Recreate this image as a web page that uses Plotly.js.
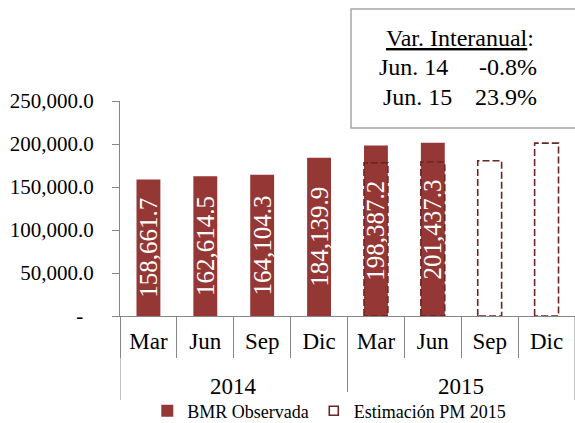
<!DOCTYPE html>
<html>
<head>
<meta charset="utf-8">
<script src="https://cdn.plot.ly/plotly-3.0.1.min.js"></script>
<style>html,body{margin:0;padding:0;background:#fff}#chart{width:575px;height:423px}</style>
</head>
<body>
<div id="chart"></div>
<script>
// Data
const years = ['2014','2014','2014','2014','2015','2015','2015','2015'];
const months = ['Mar','Jun','Sep','Dic','Mar','Jun','Sep','Dic'];
const observed = [158661.7, 162614.5, 164104.3, 184139.9, 198387.2, 201437.3, null, null];
const estimate = [null, null, null, null, 178000, 179000, 180500, 201000];
const yTickVals = [0, 50000, 100000, 150000, 200000, 250000];
const yTickText = ['-\u00a0\u00a0', '50,000.0', '100,000.0', '150,000.0', '200,000.0', '250,000.0'];
const seriesNames = ['BMR Observada', 'Estimación PM 2015'];
const boxTitle = '<u>Var. Interanual</u>:';
const varLabels = ['Jun. 14', 'Jun. 15'];
const varValues = ['-0.8%', '23.9%'];

const FONT = '"Liberation Serif", "Times New Roman", serif';
const BAR_COLOR = '#953735';
const DASH_COLOR = '#6b2624';
const AXIS_COLOR = '#868686';
const BAR_W = 0.42;

const idx = months.map((_, i) => i);
const boundaries = [-0.5].concat(idx.map(i => i + 0.5));

// year groups: center and edges from the years array
const yearNames = [...new Set(years)];
const yearCenters = yearNames.map(y => {
  const ii = idx.filter(i => years[i] === y);
  return (ii[0] + ii[ii.length - 1]) / 2;
});
const yearEdges = [-0.5].concat(yearNames.map(y => {
  const ii = idx.filter(i => years[i] === y);
  return ii[ii.length - 1] + 0.5;
}));

// Dashed outline rectangles computed from the estimate array
const rx = [], ry = [];
estimate.forEach((v, i) => {
  if (v === null) return;
  const a = i - BAR_W / 2, b = i + BAR_W / 2;
  rx.push(a, a, b, b, a, null);
  ry.push(0, v, v, 0, 0, null);
});

const traces = [
  {
    type: 'bar', name: seriesNames[0],
    x: idx, y: observed,
    width: BAR_W,
    marker: {color: BAR_COLOR, line: {width: 0}},
    texttemplate: '%{y:,.1f}',
    textposition: 'inside', insidetextanchor: 'middle',
    textangle: -90, constraintext: 'none',
    textfont: {family: FONT, size: 25, color: '#ffffff'},
    hoverinfo: 'skip'
  },
  {
    type: 'scatter', mode: 'lines',
    x: rx, y: ry, showlegend: false,
    line: {color: DASH_COLOR, width: 1.6, dash: '7px,3px'},
    hoverinfo: 'skip'
  },
  {
    type: 'scatter', mode: 'markers', name: seriesNames[1],
    x: [null], y: [null],
    marker: {symbol: 'square-open', size: 9, color: DASH_COLOR, line: {width: 1.6}},
    hoverinfo: 'skip'
  }
];

const DIV_BOTTOM = -0.391;
const shapes = [
  {type: 'rect', xref: 'paper', yref: 'paper', x0: 0.5077, x1: 1.003, y0: 0.8744, y1: 1.428,
   line: {color: '#a6a6a6', width: 1.5}, fillcolor: 'rgba(0,0,0,0)'}
].concat(yearEdges.map(e => ({
  type: 'line', xref: 'x', yref: 'paper', x0: e, x1: e, y0: 0, y1: DIV_BOTTOM,
  line: {color: AXIS_COLOR, width: 1}
})));

const annotations = [
  {xref: 'paper', yref: 'paper', x: 0.7473, y: 1.293, xanchor: 'center', yanchor: 'middle',
   text: boxTitle, showarrow: false, font: {family: FONT, size: 24, color: '#000'}},
  {xref: 'paper', yref: 'paper', x: 0.5648, y: 1.158, xanchor: 'left', yanchor: 'middle',
   text: varLabels[0], showarrow: false, font: {family: FONT, size: 24, color: '#000'}},
  {xref: 'paper', yref: 'paper', x: 0.9209, y: 1.158, xanchor: 'right', yanchor: 'middle',
   text: varValues[0], showarrow: false, font: {family: FONT, size: 24, color: '#000'}},
  {xref: 'paper', yref: 'paper', x: 0.5736, y: 1.0186, xanchor: 'left', yanchor: 'middle',
   text: varLabels[1], showarrow: false, font: {family: FONT, size: 24, color: '#000'}},
  {xref: 'paper', yref: 'paper', x: 0.9209, y: 1.0186, xanchor: 'right', yanchor: 'middle',
   text: varValues[1], showarrow: false, font: {family: FONT, size: 24, color: '#000'}}
].concat(yearNames.map((y, k) => ({
  xref: 'x', yref: 'paper', x: yearCenters[k], y: -0.330, xanchor: 'center', yanchor: 'middle',
  text: y, showarrow: false, font: {family: FONT, size: 23, color: '#000'}
})));

const layout = {
  width: 575, height: 423,
  margin: {l: 120, r: 0, t: 101, b: 107},
  paper_bgcolor: '#ffffff', plot_bgcolor: '#ffffff',
  font: {family: FONT, color: '#000000'},
  barmode: 'overlay',
  showlegend: true,
  legend: {
    orientation: 'h', x: 0.46, xanchor: 'center',
    yref: 'container', y: 0.0284, yanchor: 'middle',
    font: {family: FONT, size: 18, color: '#000'}, itemwidth: 30
  },
  xaxis: {
    range: [-0.5, 7.5], automargin: false,
    tickvals: idx, ticktext: months, ticks: '',
    ticklabelstandoff: 4,
    minor: {tickvals: boundaries, ticks: 'outside', ticklen: 41, tickcolor: AXIS_COLOR, tickwidth: 1, showgrid: false},
    showline: true, linecolor: AXIS_COLOR, linewidth: 1,
    tickfont: {family: FONT, size: 23, color: '#000'},
    showgrid: false, zeroline: false, fixedrange: true
  },
  yaxis: {
    range: [0, 250000], automargin: false,
    tickvals: yTickVals, ticktext: yTickText,
    showline: true, linecolor: AXIS_COLOR, linewidth: 1,
    ticks: 'outside', ticklen: 7, tickcolor: AXIS_COLOR,
    ticklabelstandoff: 14,
    tickfont: {family: FONT, size: 21, color: '#000'},
    showgrid: false, zeroline: false, fixedrange: true
  },
  shapes: shapes,
  annotations: annotations
};

Plotly.newPlot('chart', traces, layout, {staticPlot: true, displayModeBar: false});
</script>
</body>
</html>
